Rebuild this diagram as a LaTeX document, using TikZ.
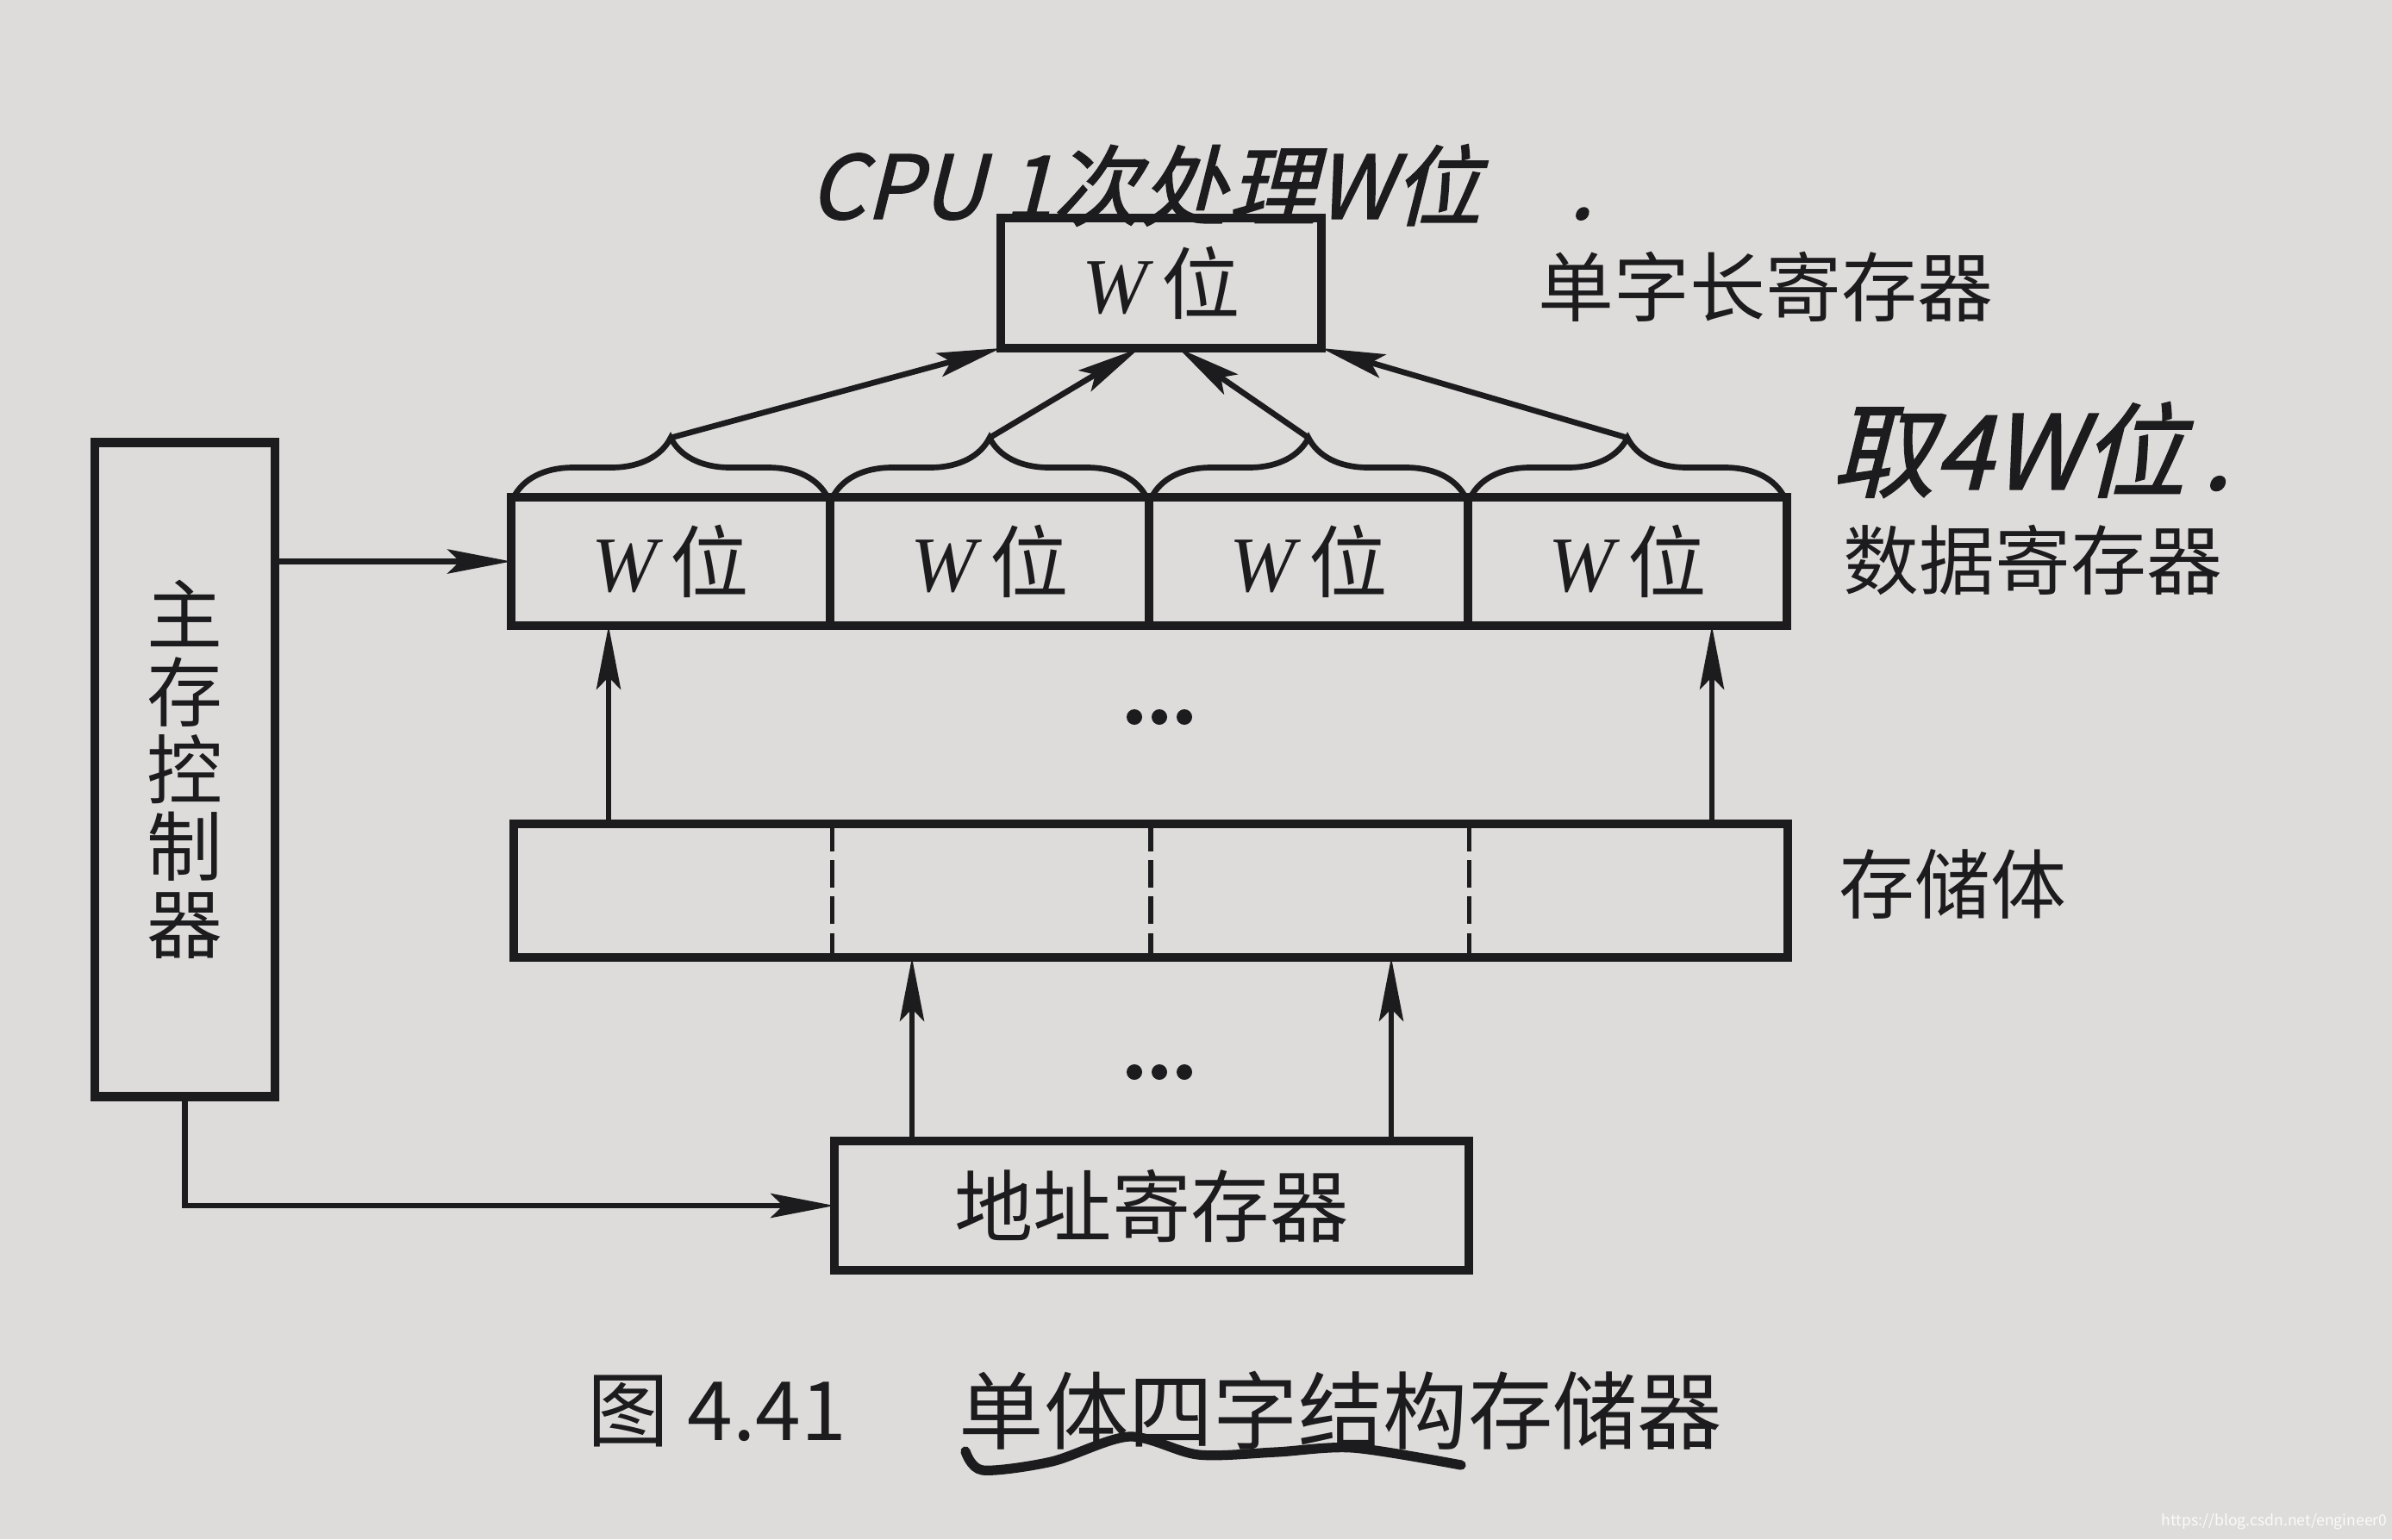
\documentclass[tikz,border=0pt]{standalone}
\usepackage{fontspec}
\setmainfont{Liberation Serif}
\newfontfamily\cjk{Noto Sans CJK SC}
\newfontfamily\handcjk[FakeSlant=0.25,FakeBold=1.5]{Noto Sans CJK SC}
\usetikzlibrary{positioning, arrows.meta, calc, decorations.pathreplacing}

\definecolor{paper}{RGB}{221,220,218}
\definecolor{ink}{RGB}{28,28,30}
\newcommand{\wbit}{{\itshape W}\,{\cjk 位}}

\begin{document}
\begin{tikzpicture}[
  regbox/.style={
    rectangle, draw=ink, line width=3pt, outer sep=0pt, inner sep=0pt,
    text=ink, font=\fontsize{26}{30}\selectfont
  },
  cellbox/.style={regbox, minimum width=3.70cm, minimum height=1.49cm},
  lbl/.style={font=\cjk\fontsize{25}{30}\selectfont, text=ink, inner sep=0pt},
  hand/.style={font=\handcjk\fontsize{29}{32}\selectfont, text=ink, inner sep=0pt},
  arr/.style={-{Stealth[length=21pt, width=8pt, inset=4pt]}, ink, line width=1.9pt},
  wordbrace/.style={decorate, decoration={brace, amplitude=0.69cm}, ink, line width=1.9pt},
  divline/.style={ink, line width=1.6pt, dash pattern=on 9pt off 3pt},
]

%% ── Page ─────────────────────────────────────────────────────────────────────
\fill[paper] (0,0) rectangle (27.75,-17.86);
\useasboundingbox (0,0) rectangle (27.75,-17.86);

%% ── Registers and storage ────────────────────────────────────────────────────
\node[regbox, minimum width=3.72cm, minimum height=1.51cm] (reg) at (13.47,-3.285) {\wbit};

\node[cellbox] (c1) at (7.78,-6.515)  {\wbit};
\node[cellbox] (c2) at (11.48,-6.515) {\wbit};
\node[cellbox] (c3) at (15.18,-6.515) {\wbit};
\node[cellbox] (c4) at (18.88,-6.515) {\wbit};

\node[regbox, minimum width=14.78cm, minimum height=1.55cm] (mem) at (13.35,-10.335) {};
\foreach \f in {0.25,0.5,0.75}
  \draw[divline] ($(mem.north west)!\f!(mem.north east)$) -- ($(mem.south west)!\f!(mem.south east)$);

\node[regbox, minimum width=7.36cm, minimum height=1.50cm, font=\cjk\fontsize{26}{30}\selectfont]
  (addr) at (13.36,-13.99) {地址寄存器};

\node[regbox, minimum width=2.09cm, minimum height=7.59cm, align=center,
      font=\cjk\fontsize{25}{25.5}\selectfont]
  (ctrl) at (2.145,-8.93) {主\\存\\控\\制\\器};

%% ── Braces over the data register ────────────────────────────────────────────
\foreach \c in {c1,c2,c3,c4} {
  \draw[wordbrace] ([xshift=0.03cm]\c.north west) -- ([xshift=-0.03cm]\c.north east);
  \coordinate (t\c) at ($(\c.north)+(0,0.69)$);
}

%% ── Connectors ───────────────────────────────────────────────────────────────
\draw[arr] (tc1) -- (reg.south west);
\draw[arr] (tc2) -- ([xshift=-0.25cm]reg.south);
\draw[arr] (tc3) -- ([xshift=0.2cm]reg.south);
\draw[arr] (tc4) -- (reg.south east);

\draw[arr] (ctrl.east |- c1.west) -- (c1.west);

\draw[arr] ([xshift=1.1cm]mem.north west) -- ([xshift=1.1cm]mem.north west |- c1.south);
\draw[arr] ([xshift=-0.88cm]mem.north east) -- ([xshift=-0.88cm]mem.north east |- c4.south);

\draw[arr] ([xshift=0.9cm]addr.north west) -- ([xshift=0.9cm]addr.north west |- mem.south);
\draw[arr] ([xshift=-0.9cm]addr.north east) -- ([xshift=-0.9cm]addr.north east |- mem.south);

\draw[arr] (ctrl.south) |- (addr.west);

% ellipses between the arrows
\coordinate (dots1) at (13.45,-8.32);
\coordinate (dots2) at (13.45,-12.44);
\foreach \d in {dots1,dots2}
  \foreach \i in {-1,0,1}
    \fill[ink] ($(\d)+(\i*0.29,0)$) circle (0.09);

%% ── Labels ───────────────────────────────────────────────────────────────────
\node[lbl, anchor=west] (lreg)  at (17.84,-3.33)  {单字长寄存器};
\node[lbl, anchor=west] (ldata) at (21.38,-6.50)  {数据寄存器};
\node[lbl, anchor=west] (lmem)  at (21.33,-10.26) {存储体};

% handwritten notes
\node[hand, anchor=west] (note1) at (9.38,-2.15) {CPU 1次处理W位\quad.};
\node[hand, anchor=west, font=\handcjk\fontsize{34}{36}\selectfont] (note2) at (21.24,-5.22) {取4W位\,.};

%% ── Caption ──────────────────────────────────────────────────────────────────
\node[lbl, anchor=west, font=\cjk\fontsize{27}{30}\selectfont] (cap1) at (6.81,-16.37) {图 4.41};
\node[lbl, anchor=west, font=\cjk\fontsize{28}{30}\selectfont] (cap2) at (11.12,-16.37) {单体四字结构存储器};
\draw[ink, line width=3.2pt, line cap=round]
  plot[smooth] coordinates {(11.2,-16.84) (11.4,-17.06) (12.2,-16.96) (13.1,-16.67)
                            (13.9,-16.88) (14.8,-16.85) (15.7,-16.8) (16.95,-17.0)};

\node[font=\cjk\fontsize{5}{6}\selectfont, text=white!85!paper, anchor=east, inner sep=0pt]
  (wm) at (27.7,-17.66) {https://blog.csdn.net/engineer0};

\end{tikzpicture}
\end{document}
